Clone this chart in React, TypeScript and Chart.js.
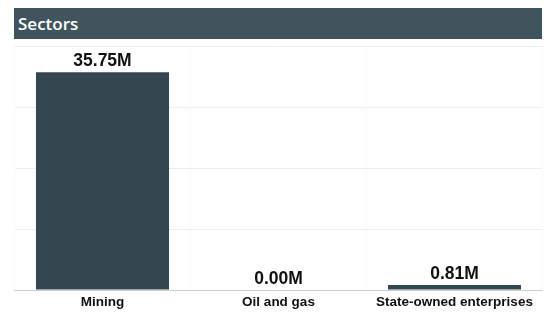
import React, { useEffect, useRef } from "react";
import { Chart, registerables } from "chart.js";

Chart.register(...registerables);

const categories = ["Mining", "Oil and gas", "State-owned enterprises"];
const values = [35.75, 0.0, 0.81];
const yTicks = [0, 10, 20, 30, 40];
const titleText = "Sectors";

const valueLabels = {
  id: "valueLabels",
  afterDatasetsDraw(chart: any) {
    const ctx = chart.ctx;
    const meta = chart.getDatasetMeta(0);
    ctx.save();
    ctx.font = "bold 17.5px Arial, 'Liberation Sans', sans-serif";
    ctx.fillStyle = "#111111";
    ctx.textAlign = "center";
    ctx.textBaseline = "alphabetic";
    meta.data.forEach((bar: any, i: number) => {
      const v = chart.data.datasets[0].data[i] as number;
      ctx.fillText(v.toFixed(2) + "M", bar.x, bar.y - 6.5);
    });
    ctx.restore();
  },
};

export default function App() {
  const ref = useRef<HTMLCanvasElement>(null);
  useEffect(() => {
    if (!ref.current) return;
    const chart = new Chart(ref.current, {
      type: "bar",
      data: {
        labels: categories,
        datasets: [
          {
            data: values,
            backgroundColor: "#34464f",
            barPercentage: 0.756,
            categoryPercentage: 1,
          },
        ],
      },
      options: {
        animation: false,
        responsive: false,
        maintainAspectRatio: false,
        layout: { padding: { left: 14.5, right: 4.5, top: 46.5, bottom: 3 } },
        plugins: { legend: { display: false }, tooltip: { enabled: false }, title: { display: false } },
        scales: {
          x: {
            grid: { color: "#f7f7f7", drawTicks: false, offset: true },
            border: { display: true, color: "#cfcfcf", dash: [2, 2] },
            afterFit: (axis: any) => {
              axis.height = 20;
            },
            ticks: {
              color: "#111111",
              padding: 4,
              font: { family: "Arial, 'Liberation Sans', sans-serif", size: 13.5, weight: "bold" },
            },
          },
          y: {
            min: yTicks[0],
            max: yTicks[yTicks.length - 1],
            afterBuildTicks: (axis: any) => {
              axis.ticks = yTicks.map((v) => ({ value: v }));
            },
            ticks: { display: false },
            grid: {
              drawTicks: false,
              color: (c: any) => (c.tick && c.tick.value === 0 ? "rgba(0,0,0,0)" : "#eeeeee"),
            },
            border: { display: false },
          },
        },
      },
      plugins: [valueLabels],
    });
    return () => chart.destroy();
  }, []);

  return (
    <div style={{ position: "absolute", left: 0, top: 0, width: 547, height: 313, background: "#ffffff" }}>
      <canvas ref={ref} width={547} height={313} style={{ position: "absolute", left: 0, top: 0, width: 547, height: 313 }} />
      <div
        style={{
          position: "absolute",
          left: 14,
          top: 8,
          width: 528,
          height: 31,
          background: "#3f545c",
          color: "#ffffff",
          fontFamily: "'Open Sans', 'Noto Sans', sans-serif",
          fontWeight: 600,
          fontSize: 17,
          lineHeight: "31px",
          paddingLeft: 4,
          boxSizing: "border-box",
        }}
      >
        {titleText}
      </div>
    </div>
  );
}
